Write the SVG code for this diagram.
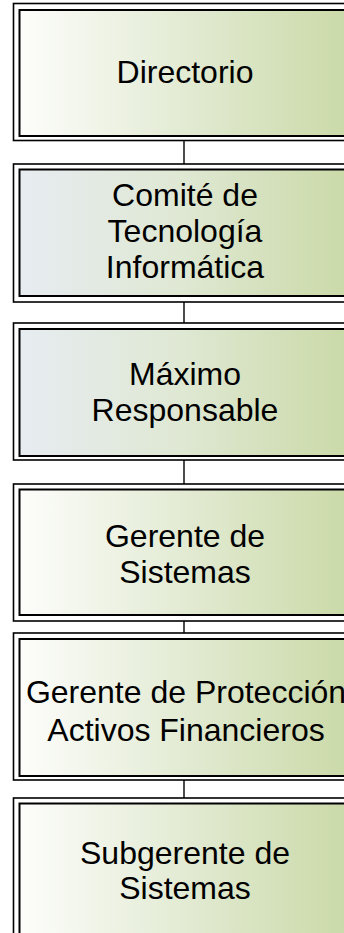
<svg xmlns="http://www.w3.org/2000/svg" width="344" height="933" viewBox="0 0 344 933">
<defs>
<linearGradient id="gW" gradientUnits="userSpaceOnUse" x1="19" y1="0" x2="344" y2="0">
<stop offset="0" stop-color="#fdfdfb"/>
<stop offset="0.5" stop-color="#e3ebd4"/>
<stop offset="1" stop-color="#cbdaa9"/>
</linearGradient>
<linearGradient id="gB" gradientUnits="userSpaceOnUse" x1="19" y1="0" x2="344" y2="0">
<stop offset="0" stop-color="#e7ecf1"/>
<stop offset="0.5" stop-color="#dfe8d3"/>
<stop offset="1" stop-color="#cbdaa9"/>
</linearGradient>
</defs>
<style>
.outer{fill:#ffffff;stroke:#000;stroke-width:1.6}
.inner{stroke:#000;stroke-width:2}
.w{fill:url(#gW)}
.b{fill:url(#gB)}
text{font-family:"Liberation Sans",Arial,sans-serif;font-size:32px;fill:#000;text-anchor:middle}
.con{stroke:#000;stroke-width:1.4;fill:none}
</style>
<g id="connectors">
<line class="con" x1="184" y1="140" x2="184" y2="164"/>
<line class="con" x1="184" y1="302" x2="184" y2="323"/>
<line class="con" x1="184" y1="460" x2="184" y2="484"/>
<line class="con" x1="184" y1="621" x2="184" y2="633"/>
<line class="con" x1="184" y1="780" x2="184" y2="798"/>
</g>
<g id="directorio">
<rect class="outer" x="13.5" y="3.5" width="345" height="137"/>
<rect class="inner w" x="19.5" y="10" width="339" height="126"/>
<text x="185" y="83">Directorio</text>
</g>
<g id="comite">
<rect class="outer" x="13.5" y="164" width="345" height="138"/>
<rect class="inner b" x="19.5" y="169.5" width="339" height="126.5"/>
<text x="185" y="206">Comité de</text>
<text x="185" y="242">Tecnología</text>
<text x="185" y="278">Informática</text>
</g>
<g id="maximo">
<rect class="outer" x="13.5" y="323" width="345" height="137"/>
<rect class="inner b" x="19.5" y="329" width="339" height="127"/>
<text x="185" y="385">Máximo</text>
<text x="185" y="421">Responsable</text>
</g>
<g id="gerente-sistemas">
<rect class="outer" x="13.5" y="484" width="345" height="137"/>
<rect class="inner w" x="19.5" y="489.5" width="339" height="125.5"/>
<text x="185" y="547">Gerente de</text>
<text x="185" y="583">Sistemas</text>
</g>
<g id="gerente-proteccion">
<rect class="outer" x="13.5" y="633" width="345" height="147"/>
<rect class="inner w" x="19.5" y="639" width="339" height="137"/>
<text x="186" y="703">Gerente de Protección</text>
<text x="186" y="741">Activos Financieros</text>
</g>
<g id="subgerente">
<rect class="outer" x="13.5" y="798" width="345" height="150"/>
<rect class="inner w" x="19.5" y="803.5" width="339" height="140"/>
<text x="185" y="864">Subgerente de</text>
<text x="185" y="899">Sistemas</text>
</g>
</svg>
